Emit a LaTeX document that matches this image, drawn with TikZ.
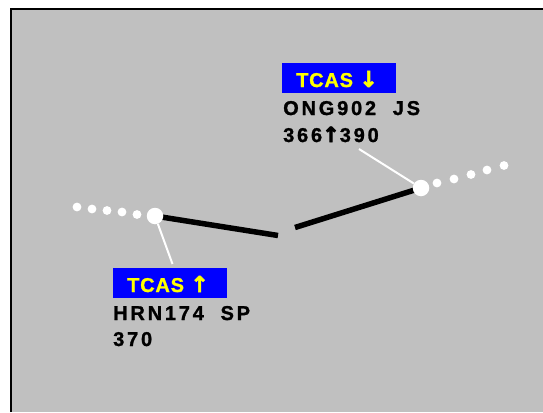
\documentclass[tikz,border=0pt]{standalone}
\usepackage{fontspec}
\setmainfont{Liberation Sans}
\newfontfamily\datafont[LetterSpace=14,UprightFont={* Bold},FakeBold=1.2]{Liberation Sans}
\newfontfamily\tcasfont[LetterSpace=4,UprightFont={* Bold},FakeBold=1.2]{Liberation Sans}
\newfontfamily\arrowfont[UprightFont={* Bold},FakeBold=3]{DejaVu Sans}
\definecolor{scope}{RGB}{192,192,192}
\definecolor{tagblue}{RGB}{0,0,255}
\definecolor{tagyellow}{RGB}{255,255,0}
\newcommand{\arrw}[1]{{\arrowfont\fontsize{21}{22}\selectfont #1}}
\newcommand{\tagarrw}[1]{{\arrowfont\fontsize{22}{22}\selectfont #1}}
\begin{document}
\begin{tikzpicture}[x=1pt,y=-1pt,
  trail/.style={circle,fill=white,inner sep=0pt,minimum size=8.8pt},
  plane/.style={circle,fill=white,inner sep=0pt,minimum size=16.5pt},
  track/.style={line width=5.5pt,black},
  leader/.style={white,line width=2pt},
  tagbox/.style={fill=tagblue,inner sep=0pt,minimum width=114pt,minimum height=30pt},
  tagtext/.style={anchor=base west,inner sep=0pt,text=tagyellow,font=\tcasfont\fontsize{20}{22}\selectfont},
  data/.style={anchor=base west,inner sep=0pt,font=\datafont\fontsize{20}{22}\selectfont}]
\useasboundingbox (0,0) rectangle (543,412);
\fill[white] (0,0) rectangle (543,412);
\fill[scope] (11,9) rectangle (543,412);
\draw[line width=2pt,black] (11,412) -- (11,9) -- (543,9);
% left aircraft
\node[trail] (l1) at (77,207) {};
\node[trail] (l2) at (92,209) {};
\node[trail] (l3) at (107,210.5) {};
\node[trail] (l4) at (122,212) {};
\node[trail] (l5) at (137,214.5) {};
% right aircraft
\node[trail] (r1) at (437,183) {};
\node[trail] (r2) at (454,179) {};
\node[trail] (r3) at (471,174.5) {};
\node[trail] (r4) at (487,170) {};
\node[trail] (r5) at (504,165.5) {};
% track segments
\coordinate (lend) at (278,235.5);
\coordinate (rstart) at (295,227.5);
\coordinate (lc) at (155,216);
\coordinate (rc) at (421,188);
\draw[track] (lc) -- (lend);
\draw[track] (rstart) -- (rc);
\node[plane] (lp) at (lc) {};
\node[plane] (rp) at (rc) {};
% labels
\node[tagbox,anchor=north west] (rtag) at (282,63) {};
\node[tagtext] (rtcas) at (296,87) {TCAS \tagarrw{↓}};
\node[data] (rname) at (283,115) {ONG902\ \ JS};
\node[data] (ralt) at (283,142) {366\arrw{↑}390};
\node[tagbox,anchor=north west] (ltag) at (113,268) {};
\node[tagtext] (ltcas) at (127,292) {TCAS \tagarrw{↑}};
\node[data] (lname) at (113,320) {HRN174\ \ SP};
\node[data] (lalt) at (113,346) {370};
% leaders
\coordinate (rlead) at (359,149);
\coordinate (llead) at (172.5,264);
\draw[leader] (rp) -- (rlead);
\draw[leader] (lp) -- (llead);
\end{tikzpicture}
\end{document}
